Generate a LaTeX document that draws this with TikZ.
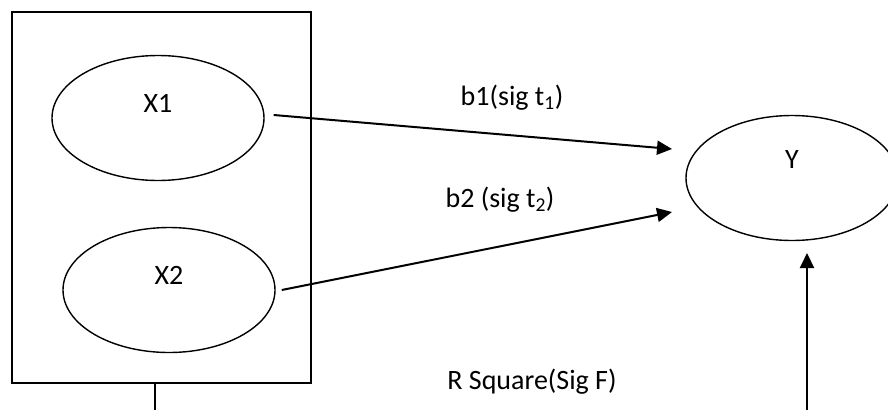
\documentclass[tikz,border=0pt]{standalone}
\usepackage{fontspec}
\setmainfont{Carlito}
\usetikzlibrary{arrows.meta,positioning,shapes.geometric}

\begin{document}
\begin{tikzpicture}[x=1pt, y=-1pt,
  every node/.style={font=\fontsize{28}{32}\selectfont},
  var/.style={draw, ellipse, line width=1.4pt, minimum width=212pt, minimum height=125pt, inner sep=0pt},
  path/.style={line width=2pt, -{Triangle[length=15pt,width=14pt]}}]
  \clip (0,0) rectangle (888,410);
  % predictor block
  \draw[line width=1.6pt] (12,12) rectangle (311,383);
  \node[var, label={[yshift=15pt]center:X1}] (x1) at (158,118) {};
  \node[var, label={[yshift=15pt]center:X2}] (x2) at (169,290) {};
  \coordinate (boxfoot) at (155,383);
  \coordinate (boxend) at (155,410);
  \draw[line width=1.4pt] (boxfoot) -- (boxend);
  % outcome
  \node[var, label={[yshift=18pt]center:Y}] (y) at (792,178) {};
  \coordinate (t1) at (672,149);
  \coordinate (t2) at (672,212);
  \coordinate (fend) at (807,253);
  \coordinate (fstart) at (807,410);
  \draw[path] ([xshift=9pt,yshift=3pt]x1.east) -- (t1);
  \draw[path] ([xshift=6pt]x2.east) -- (t2);
  \draw[path] (fstart) -- (fend);
  \node (b1) at (512,98) {b1(sig t\textsubscript{1})};
  \node (b2) at (500,200) {b2 (sig t\textsubscript{2})};
  \node (rsq) at (532,382) {R Square(Sig F)};
\end{tikzpicture}
\end{document}
